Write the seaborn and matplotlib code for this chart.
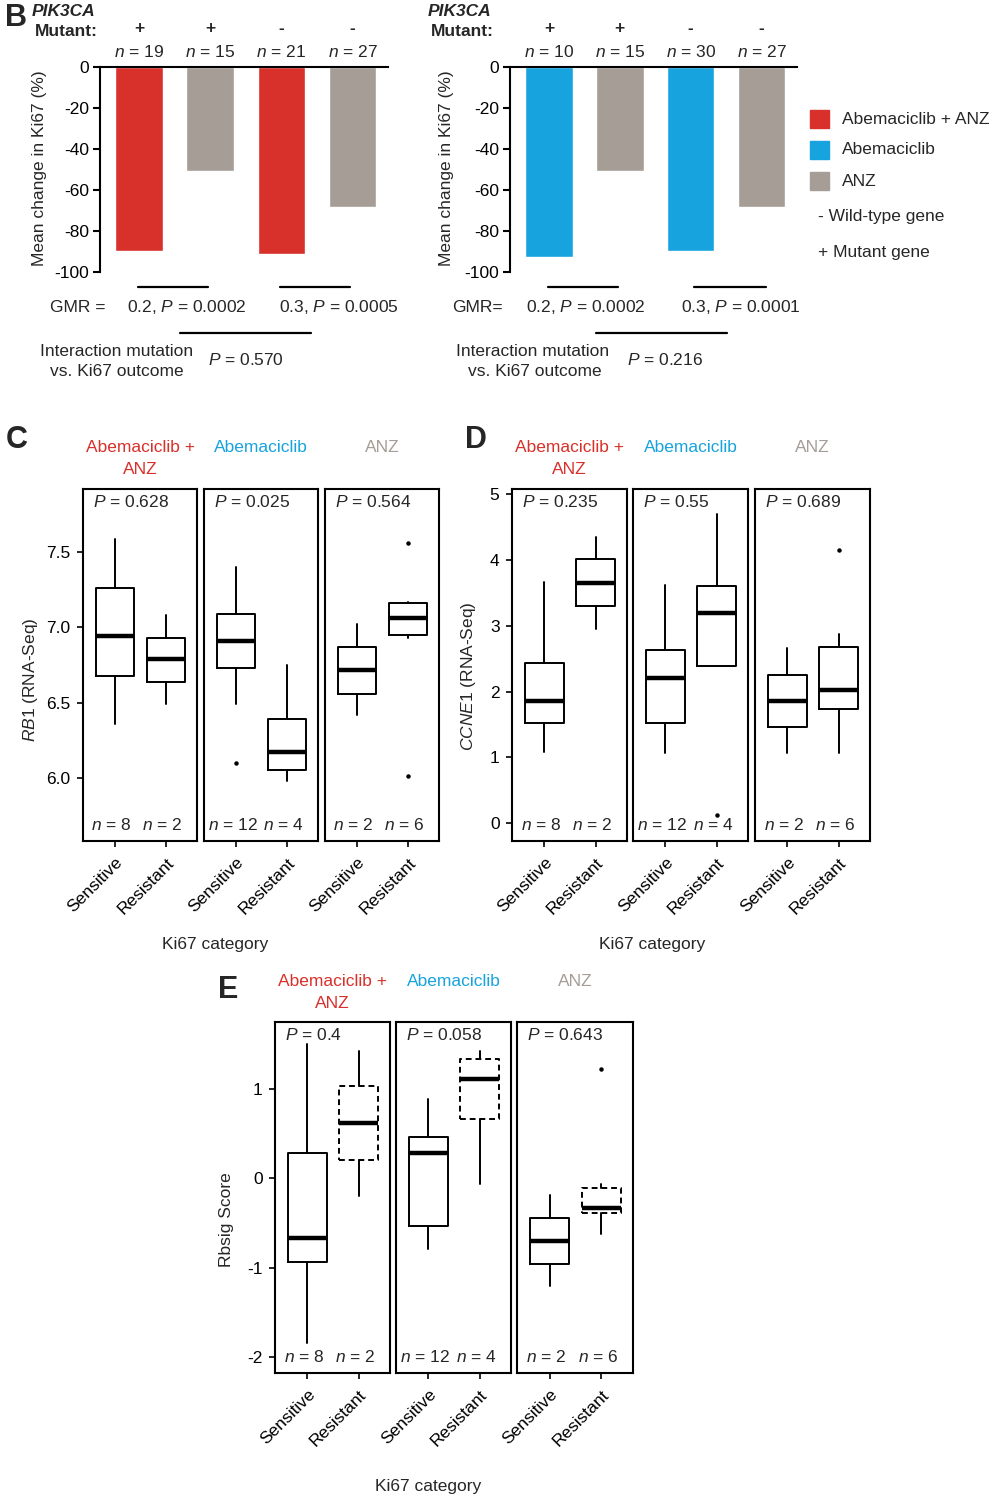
import numpy as np
import pandas as pd
import seaborn as sns
import matplotlib.pyplot as plt
from matplotlib.lines import Line2D
from matplotlib.patches import Rectangle

# colours of the three arms
RED = "#d8302a"
BLUE = "#17a3de"
GREY = "#a59d96"

# Panel B: mean change in Ki67 by PIK3CA status
b_groups = ["arm_mut", "anz_mut", "arm_wt", "anz_wt"]
b_mutant = ["+", "+", "-", "-"]
b_left_change = [-90, -50.5, -91, -68.5]
b_left_n = [19, 15, 21, 27]
b_right_change = [-92.5, -50.5, -90, -68.5]
b_right_n = [10, 15, 30, 27]
b_left_gmr = ["0.2, $\\mathit{P}$ = 0.0002", "0.3, $\\mathit{P}$ = 0.0005"]
b_right_gmr = ["0.2, $\\mathit{P}$ = 0.0002", "0.3, $\\mathit{P}$ = 0.0001"]
b_left_inter = "$\\mathit{P}$ = 0.570"
b_right_inter = "$\\mathit{P}$ = 0.216"

# Panels C-E: box summaries, order = (arm1 sens, arm1 res, arm2 sens, arm2 res, arm3 sens, arm3 res)
arms = ["Abemaciclib +\nANZ", "Abemaciclib", "ANZ"]
arm_colors = [RED, BLUE, GREY]
ki67_cats = ["Sensitive", "Resistant"]
n_counts = [8, 2, 12, 4, 2, 6]

c_whishi = [7.59, 7.08, 7.40, 6.75, 7.02, 7.17]
c_q3 = [7.26, 6.93, 7.09, 6.39, 6.87, 7.16]
c_med = [6.94, 6.79, 6.91, 6.17, 6.72, 7.06]
c_q1 = [6.68, 6.64, 6.73, 6.05, 6.56, 6.95]
c_whislo = [6.36, 6.49, 6.49, 5.98, 6.42, 6.93]
c_fliers = [[], [], [6.10], [], [], [7.56, 6.01]]
c_pvals = ["0.628", "0.025", "0.564"]

d_whishi = [3.66, 4.35, 3.62, 4.70, 2.67, 2.88]
d_q3 = [2.44, 4.01, 2.64, 3.60, 2.26, 2.68]
d_med = [1.86, 3.65, 2.20, 3.19, 1.86, 2.03]
d_q1 = [1.53, 3.30, 1.53, 2.39, 1.47, 1.74]
d_whislo = [1.09, 2.95, 1.07, 2.39, 1.06, 1.07]
d_fliers = [[], [], [], [0.12], [], [4.15]]
d_pvals = ["0.235", "0.55", "0.689"]

e_whishi = [1.50, 1.43, 0.89, 1.43, -0.19, -0.06]
e_q3 = [0.28, 1.03, 0.46, 1.34, -0.44, -0.11]
e_med = [-0.67, 0.62, 0.28, 1.11, -0.70, -0.33]
e_q1 = [-0.94, 0.20, -0.53, 0.66, -0.96, -0.39]
e_whislo = [-1.84, -0.20, -0.79, -0.06, -1.21, -0.62]
e_fliers = [[], [], [], [], [], [1.22]]
e_pvals = ["0.4", "0.058", "0.643"]

sns.set_theme(style="ticks")
plt.rcParams["font.family"] = ["Liberation Sans", "DejaVu Sans"]
plt.rcParams["mathtext.fontset"] = "custom"
plt.rcParams["mathtext.rm"] = "Liberation Sans"
plt.rcParams["mathtext.it"] = "Liberation Sans:italic"
plt.rcParams["mathtext.bf"] = "Liberation Sans:bold"
plt.rcParams["axes.unicode_minus"] = False

FS = 12.5
W, H = 997, 1500
fig = plt.figure(figsize=(W / 100, H / 100), dpi=100)


def put(x, y, s, **kw):
    kw.setdefault("va", "center")
    kw.setdefault("fontsize", FS)
    fig.text(x / W, 1 - y / H, s, **kw)


def axes_at(x0, y0, x1, y1):
    return fig.add_axes([x0 / W, 1 - y1 / H, (x1 - x0) / W, (y1 - y0) / H])


def hline(x0, x1, y, lw=1.6):
    fig.add_artist(Line2D([x0 / W, x1 / W], [1 - y / H, 1 - y / H], color="black", lw=lw))


# ---------- Panel B ----------
def bar_panel(x0, x1, values, colors, counts, label_x):
    ax = axes_at(x0, 67, x1, 272)
    df = pd.DataFrame({"group": b_groups, "change": values})
    sns.barplot(data=df, x="group", y="change", hue="group", palette=colors,
                legend=False, width=0.67, saturation=1, ax=ax)
    ax.set_ylim(-100, 0)
    ax.set_xlim(-0.55, 3.5)
    ax.set_yticks([0, -20, -40, -60, -80, -100])
    ax.set_yticklabels(["0", "-20", "-40", "-60", "-80", "-100"])
    ax.set_xticks([])
    ax.set_xlabel("")
    ax.set_ylabel("")
    for side in ["right", "bottom"]:
        ax.spines[side].set_visible(False)
    for side in ["left", "top"]:
        ax.spines[side].set_linewidth(1.5)
        ax.spines[side].set_color("black")
    ax.tick_params(axis="y", length=5, width=1.5, labelsize=FS, pad=3, colors="black")
    put(label_x, 168, "Mean change in Ki67 (%)", rotation=90, ha="center")
    # bar centres in pixels for headers
    step = (x1 - x0) / 4.05
    for i in range(4):
        cx = x0 + (i + 0.55) * step
        put(cx, 28, b_mutant[i], ha="center", fontweight="bold")
        put(cx, 52, "$\\mathit{n}$ = %d" % counts[i], ha="center")
    return ax


bar_panel(100, 388, b_left_change, [RED, GREY, RED, GREY], b_left_n, 40)
bar_panel(510, 797, b_right_change, [BLUE, GREY, BLUE, GREY], b_right_n, 446)

put(16, 18, "B", fontsize=22, fontweight="bold", ha="center")
for px0 in [32, 428]:
    put(px0, 11, "PIK3CA", fontweight="bold", fontstyle="italic", ha="left")
    put(px0 + 3, 32, "Mutant:", fontweight="bold", ha="left")

# GMR and interaction annotations
hline(138, 208, 287)
hline(280, 350, 287)
hline(180, 311, 333)
put(50, 307, "GMR =", ha="left")
put(187, 307, b_left_gmr[0], ha="center")
put(339, 307, b_left_gmr[1], ha="center")
put(117, 351, "Interaction mutation", ha="center")
put(117, 372, "vs. Ki67 outcome", ha="center")
put(208, 360, b_left_inter, ha="left")

hline(548, 618, 287)
hline(694, 766, 287)
hline(596, 727, 333)
put(452, 307, "GMR=", ha="left")
put(586, 307, b_right_gmr[0], ha="center")
put(741, 307, b_right_gmr[1], ha="center")
put(533, 351, "Interaction mutation", ha="center")
put(535, 372, "vs. Ki67 outcome", ha="center")
put(627, 360, b_right_inter, ha="left")

# legend
for yy, col, lab in [(119, RED, "Abemaciclib + ANZ"), (150, BLUE, "Abemaciclib"), (181, GREY, "ANZ")]:
    fig.add_artist(Rectangle((810 / W, 1 - (yy + 9) / H), 19 / W, 18 / H,
                             transform=fig.transFigure, color=col))
    put(842, yy, lab, ha="left")
put(818, 216, "- Wild-type gene", ha="left")
put(818, 253, "+ Mutant gene", ha="left")


# ---------- Box panels ----------
def box_panel(frames, y0, y1, whislo, q1, med, q3, whishi, fliers, ylim, yticks,
              yticklabels, pvals, dashed=False):
    for k, (fx0, fx1) in enumerate(frames):
        ax = axes_at(fx0, y0, fx1, y1)
        stats = []
        for j in range(2):
            i = 2 * k + j
            stats.append(dict(whislo=whislo[i], q1=q1[i], med=med[i], q3=q3[i],
                              whishi=whishi[i], fliers=fliers[i]))
        art = ax.bxp(stats, positions=[0, 1], widths=0.76, showcaps=False,
                     boxprops=dict(color="black", lw=1.4),
                     whiskerprops=dict(color="black", lw=1.4),
                     medianprops=dict(color="black", lw=3.2),
                     flierprops=dict(marker="o", markersize=2.2, markerfacecolor="black",
                                     markeredgecolor="black"))
        if dashed:
            art["boxes"][1].set_linestyle((0, (3, 2)))
        ax.set_xlim(-0.63, 1.61)
        ax.set_ylim(*ylim)
        ax.set_facecolor("white")
        for sp in ax.spines.values():
            sp.set_visible(True)
            sp.set_linewidth(1.5)
            sp.set_color("black")
        ax.set_xticks([0, 1])
        ax.set_xticklabels(ki67_cats, rotation=45, ha="right", va="top",
                           rotation_mode="anchor", fontsize=FS)
        ax.tick_params(axis="x", length=4, width=1.2, pad=6, colors="black")
        if k == 0:
            ax.set_yticks(yticks)
            ax.set_yticklabels(yticklabels, fontsize=FS)
            ax.tick_params(axis="y", length=4, width=1.2, pad=5, colors="black")
        else:
            ax.set_yticks([])
        ax.text(0.09, 0.962, "$\\mathit{P}$ = " + pvals[k], transform=ax.transAxes,
                fontsize=FS, ha="left", va="center")
        for j in range(2):
            ax.text(j - 0.07, 0.045, "$\\mathit{n}$ = %d" % n_counts[2 * k + j],
                    transform=ax.get_xaxis_transform(), fontsize=FS, ha="center", va="center")
        # arm header
        cx = (fx0 + fx1) / 2
        put(cx, y0 - 41, arms[k].split("\n")[0], ha="center", color=arm_colors[k])
        if "\n" in arms[k]:
            put(cx, y0 - 19, arms[k].split("\n")[1], ha="center", color=arm_colors[k])


# Panel C
c_frames = [(83, 197), (204, 318), (325, 439)]
box_panel(c_frames, 489, 841, c_whislo, c_q1, c_med, c_q3, c_whishi, c_fliers,
          (5.58, 7.92), [6.0, 6.5, 7.0, 7.5], ["6.0", "6.5", "7.0", "7.5"], c_pvals)
put(17, 440, "C", fontsize=22, fontweight="bold", ha="center")
put(30, 680, "$\\mathit{RB1}$ (RNA-Seq)", rotation=90, ha="center")
put(215, 944, "Ki67 category", ha="center")

# Panel D
d_frames = [(512, 627), (633, 748), (755, 870)]
box_panel(d_frames, 489, 841, d_whislo, d_q1, d_med, d_q3, d_whishi, d_fliers,
          (-0.27, 5.08), [0, 1, 2, 3, 4, 5], ["0", "1", "2", "3", "4", "5"], d_pvals)
put(476, 440, "D", fontsize=22, fontweight="bold", ha="center")
put(468, 676, "$\\mathit{CCNE1}$ (RNA-Seq)", rotation=90, ha="center")
put(652, 944, "Ki67 category", ha="center")

# Panel E
e_frames = [(275, 390), (396, 511), (517, 633)]
box_panel(e_frames, 1022, 1373, e_whislo, e_q1, e_med, e_q3, e_whishi, e_fliers,
          (-2.18, 1.75), [-2, -1, 0, 1], ["-2", "-1", "0", "1"], e_pvals, dashed=True)
put(228, 990, "E", fontsize=22, fontweight="bold", ha="center")
put(226, 1220, "Rbsig Score", rotation=90, ha="center")
put(428, 1487, "Ki67 category", ha="center")

fig.savefig("out.png", dpi=100, facecolor="white")
